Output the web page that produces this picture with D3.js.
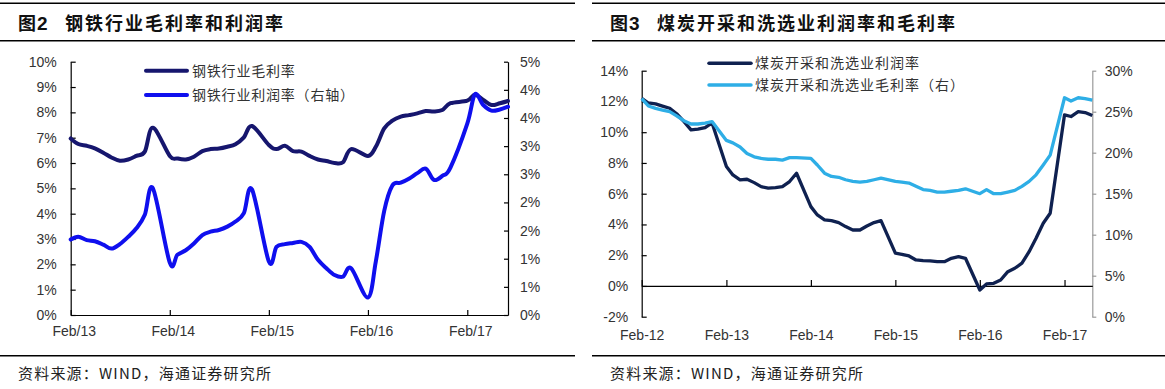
<!DOCTYPE html>
<meta charset="utf-8">
<head>
<style>
body { margin: 0; background: #fff; }
.axis text { font-family: Arial, "Liberation Sans", sans-serif; font-size: 14px; fill: #333; }
.axis path, .axis line { stroke: #000; stroke-width: 1.2px; }
.axis--grey path, .axis--grey line { stroke: #9a9a9a; }
.cjk { font-family: "Noto Sans CJK SC", sans-serif; }
</style>
</head>
<body>
<svg id="chart" width="1165" height="389"></svg>
<script src="https://d3js.org/d3.v7.min.js"></script>
<script>

// ---- 图2 钢铁行业 (no January values) ----
var steelMonths = [
  "2013-02","2013-03","2013-04","2013-05","2013-06","2013-07","2013-08","2013-09","2013-10","2013-11","2013-12",
  "2014-02","2014-03","2014-04","2014-05","2014-06","2014-07","2014-08","2014-09","2014-10","2014-11","2014-12",
  "2015-02","2015-03","2015-04","2015-05","2015-06","2015-07","2015-08","2015-09","2015-10","2015-11","2015-12",
  "2016-02","2016-03","2016-04","2016-05","2016-06","2016-07","2016-08","2016-09","2016-10","2016-11","2016-12",
  "2017-02","2017-03","2017-04","2017-05","2017-06","2017-07"];
var steelGross = [
  6.97, 6.75, 6.68, 6.58, 6.41, 6.22, 6.09, 6.14, 6.28, 6.45, 7.39,
  6.28, 6.18, 6.14, 6.25, 6.47, 6.55, 6.57, 6.64, 6.74, 7.01, 7.46,
  6.71, 6.55, 6.68, 6.47, 6.45, 6.28, 6.14, 6.08, 6.00, 6.03, 6.55,
  6.28, 6.64, 7.37, 7.67, 7.83, 7.89, 7.96, 8.05, 8.03, 8.09, 8.36,
  8.46, 8.70, 8.49, 8.29, 8.36, 8.45];
var steelProfit = [
  1.34, 1.39, 1.33, 1.31, 1.25, 1.18, 1.26, 1.39, 1.54, 1.78, 2.25,
  0.93, 1.07, 1.15, 1.27, 1.42, 1.48, 1.51, 1.57, 1.66, 1.81, 2.23,
  0.95, 1.21, 1.26, 1.28, 1.30, 1.21, 0.98, 0.83, 0.71, 0.68, 0.83,
  0.31, 0.95, 1.85, 2.30, 2.35, 2.42, 2.52, 2.60, 2.40, 2.47, 2.62,
  3.40, 3.92, 3.73, 3.63, 3.65, 3.70];
var steelTicksX = ["2013-02","2014-02","2015-02","2016-02","2017-02"];
var steelTicksL = [0,1,2,3,4,5,6,7,8,9,10];
var steelTicksR = [0,0.5,1,1.5,2,2.5,3,3.5,4,4.5];

// ---- 图3 煤炭开采和洗选业 (no January values) ----
var coalMonths = [
  "2012-02","2012-03","2012-04","2012-05","2012-06","2012-07","2012-08","2012-09","2012-10","2012-11","2012-12",
  "2013-02","2013-03","2013-04","2013-05","2013-06","2013-07","2013-08","2013-09","2013-10","2013-11","2013-12",
  "2014-02","2014-03","2014-04","2014-05","2014-06","2014-07","2014-08","2014-09","2014-10","2014-11","2014-12",
  "2015-02","2015-03","2015-04","2015-05","2015-06","2015-07","2015-08","2015-09","2015-10","2015-11","2015-12",
  "2016-02","2016-03","2016-04","2016-05","2016-06","2016-07","2016-08","2016-09","2016-10","2016-11","2016-12",
  "2017-02","2017-03","2017-04","2017-05","2017-06"];
var coalProfit = [
  12.2, 11.9, 11.84, 11.7, 11.56, 11.2, 10.7, 10.15, 10.2, 10.3, 10.6,
  7.77, 7.22, 6.9, 6.94, 6.72, 6.46, 6.36, 6.4, 6.46, 6.79, 7.33,
  5.16, 4.62, 4.3, 4.25, 4.12, 3.86, 3.64, 3.64, 3.9, 4.12, 4.25,
  2.13, 2.06, 1.95, 1.69, 1.65, 1.63, 1.58, 1.58, 1.8, 1.91, 1.8,
  -0.26, 0.13, 0.17, 0.39, 0.93, 1.15, 1.48, 2.23, 3.1, 4.08, 4.73,
  11.13, 11.02, 11.34, 11.28, 11.08];
var coalGross = [
  26.6, 25.7, 25.4, 25.2, 25.0, 24.5, 23.9, 23.5, 23.5, 23.6, 23.8,
  21.5, 21.2, 20.7, 19.9, 19.5, 19.3, 19.2, 19.2, 19.1, 19.4, 19.4,
  19.3, 18.5, 17.5, 17.1, 17.0, 16.7, 16.5, 16.4, 16.5, 16.7, 16.9,
  16.5, 16.4, 16.3, 15.9, 15.5, 15.4, 15.2, 15.2, 15.3, 15.4, 15.6,
  15.0, 15.5, 15.0, 15.0, 15.2, 15.4, 15.9, 16.5, 17.3, 18.5, 19.7,
  26.7, 26.3, 26.7, 26.6, 26.4];
var coalTicksX = ["2012-02","2013-02","2014-02","2015-02","2016-02","2017-02"];
var coalTicksL = [-2,0,2,4,6,8,10,12,14];
var coalTicksR = [0,5,10,15,20,25,30];

var parse = d3.timeParse("%Y-%m");
var svg = d3.select("#chart");

// frame lines, titles, sources
function frame(x0, x1, fig, title) {
  [3.3, 40.7, 355.7].forEach(function(y) {
    svg.append("line").attr("x1", x0).attr("x2", x1).attr("y1", y).attr("y2", y)
        .attr("stroke", "#000").attr("stroke-width", 1.4);
  });
  svg.append("text").attr("class", "cjk").attr("x", x0 + 18).attr("y", 30)
      .style("font-size", "18px").style("font-weight", "bold").attr("fill", "#111")
      .text("图");
  svg.append("text").attr("x", x0 + 37).attr("y", 30)
      .style("font-family", "Arial, 'Liberation Sans', sans-serif")
      .style("font-size", "19px").style("font-weight", "bold").attr("fill", "#111")
      .text(fig);
  svg.append("text").attr("class", "cjk").attr("x", x0 + 65).attr("y", 30)
      .style("font-size", "18px").style("font-weight", "bold").style("letter-spacing", "2px")
      .attr("fill", "#111").text(title);
  svg.append("text").attr("class", "cjk").attr("x", x0 + 18).attr("y", 379)
      .style("font-size", "15px").style("letter-spacing", "1.2px").attr("fill", "#222")
      .text("资料来源：WIND，海通证券研究所");
}
frame(0, 575, "2", "钢铁行业毛利率和利润率");
frame(592, 1165, "3", "煤炭开采和洗选业利润率和毛利率");

// ---------- left chart ----------
var steel = steelMonths.map(function(m, i) {
  return {date: parse(m), gross: steelGross[i], profit: steelProfit[i]};
});

var x1 = d3.scaleTime().domain([parse("2013-02"), parse("2017-07")]).range([70.7, 508]);
var y1L = d3.scaleLinear().domain([0, 10]).range([315, 61.7]);
var y1R = d3.scaleLinear().domain([0, 4.5]).range([315, 61.7]);

svg.append("g").attr("class", "axis")
    .attr("transform", "translate(0,315)")
    .call(d3.axisBottom(x1).tickValues(steelTicksX.map(parse))
      .tickFormat(d3.timeFormat("%b/%y")).tickSizeInner(-5).tickSizeOuter(0).tickPadding(11))
    .selectAll("text").attr("dx", 3);

svg.append("g").attr("class", "axis")
    .attr("transform", "translate(70.7,0)")
    .call(d3.axisLeft(y1L).tickValues(steelTicksL)
      .tickFormat(function(d) { return d + "%"; }).tickSizeInner(-5).tickSizeOuter(0).tickPadding(14));

svg.append("g").attr("class", "axis")
    .attr("transform", "translate(508,0)")
    .call(d3.axisRight(y1R).tickValues(steelTicksR)
      .tickFormat(function(d) { return Math.round(d) + "%"; }).tickSizeInner(-4).tickSizeOuter(0).tickPadding(12));

// excel-like smoothed line
var smooth = d3.curveCardinal.tension(0);

svg.append("path").datum(steel)
    .attr("fill", "none").attr("stroke", "#16166e").attr("stroke-width", 4)
    .attr("stroke-linejoin", "round").attr("stroke-linecap", "round")
    .attr("d", d3.line().curve(smooth)
      .x(function(d) { return x1(d.date); })
      .y(function(d) { return y1L(d.gross); }));

svg.append("path").datum(steel)
    .attr("fill", "none").attr("stroke", "#0f0fee").attr("stroke-width", 4)
    .attr("stroke-linejoin", "round").attr("stroke-linecap", "round")
    .attr("d", d3.line().curve(smooth)
      .x(function(d) { return x1(d.date); })
      .y(function(d) { return y1R(d.profit); }));

var legend1 = [
  {label: "钢铁行业毛利率", color: "#16166e"},
  {label: "钢铁行业利润率（右轴）", color: "#0f0fee"}
];
var lg1 = svg.selectAll(".legend1").data(legend1).enter().append("g")
    .attr("class", "legend1")
    .attr("transform", function(d, i) { return "translate(0," + (70.7 + i * 24.3) + ")"; });
lg1.append("line").attr("x1", 146).attr("x2", 187).attr("y1", 0).attr("y2", 0)
    .attr("stroke", function(d) { return d.color; }).attr("stroke-width", 4).attr("stroke-linecap", "round");
lg1.append("text").attr("class", "cjk").attr("x", 192).attr("y", 5)
    .style("font-size", "14px").style("letter-spacing", "0.8px").attr("fill", "#333")
    .text(function(d) { return d.label; });

// ---------- right chart ----------
var coal = coalMonths.map(function(m, i) {
  return {date: parse(m), profit: coalProfit[i], gross: coalGross[i]};
});

var x2 = d3.scaleTime().domain([parse("2012-02"), parse("2017-06")]).range([641.7, 1092.3]);
var y2L = d3.scaleLinear().domain([-2, 14]).range([316.7, 70.7]);
var y2R = d3.scaleLinear().domain([0, 30]).range([316.7, 70.7]);

svg.append("g").attr("class", "axis")
    .attr("transform", "translate(641.7,0)")
    .call(d3.axisLeft(y2L).tickValues(coalTicksL)
      .tickFormat(function(d) { return d + "%"; }).tickSizeInner(-5).tickSizeOuter(0).tickPadding(13.5));

svg.append("g").attr("class", "axis axis--grey")
    .attr("transform", "translate(1092.3,0)")
    .call(d3.axisRight(y2R).tickValues(coalTicksR)
      .tickFormat(function(d) { return d + "%"; }).tickSizeInner(4).tickSizeOuter(0).tickPadding(8.5));

svg.append("g").attr("class", "axis")
    .attr("transform", "translate(0," + y2L(0) + ")")
    .call(d3.axisBottom(x2).tickValues(coalTicksX.map(parse))
      .tickFormat(d3.timeFormat("%b-%y")).tickSizeInner(-6).tickSizeOuter(0).tickPadding(44));

svg.append("path").datum(coal)
    .attr("fill", "none").attr("stroke", "#0f2150").attr("stroke-width", 3.3)
    .attr("stroke-linejoin", "round")
    .attr("d", d3.line()
      .x(function(d) { return x2(d.date); })
      .y(function(d) { return y2L(d.profit); }));

svg.append("path").datum(coal)
    .attr("fill", "none").attr("stroke", "#2eaee6").attr("stroke-width", 3.3)
    .attr("stroke-linejoin", "round")
    .attr("d", d3.line()
      .x(function(d) { return x2(d.date); })
      .y(function(d) { return y2R(d.gross); }));

var legend2 = [
  {label: "煤炭开采和洗选业利润率", color: "#0f2150"},
  {label: "煤炭开采和洗选业毛利率（右）", color: "#2eaee6"}
];
var lg2 = svg.selectAll(".legend2").data(legend2).enter().append("g")
    .attr("class", "legend2")
    .attr("transform", function(d, i) { return "translate(0," + (63.3 + i * 21.7) + ")"; });
lg2.append("line").attr("x1", 709).attr("x2", 751).attr("y1", 0).attr("y2", 0)
    .attr("stroke", function(d) { return d.color; }).attr("stroke-width", 3.5).attr("stroke-linecap", "round");
lg2.append("text").attr("class", "cjk").attr("x", 755).attr("y", 5)
    .style("font-size", "14px").style("letter-spacing", "1px").attr("fill", "#333")
    .text(function(d) { return d.label; });

</script>
</body>
</html>
